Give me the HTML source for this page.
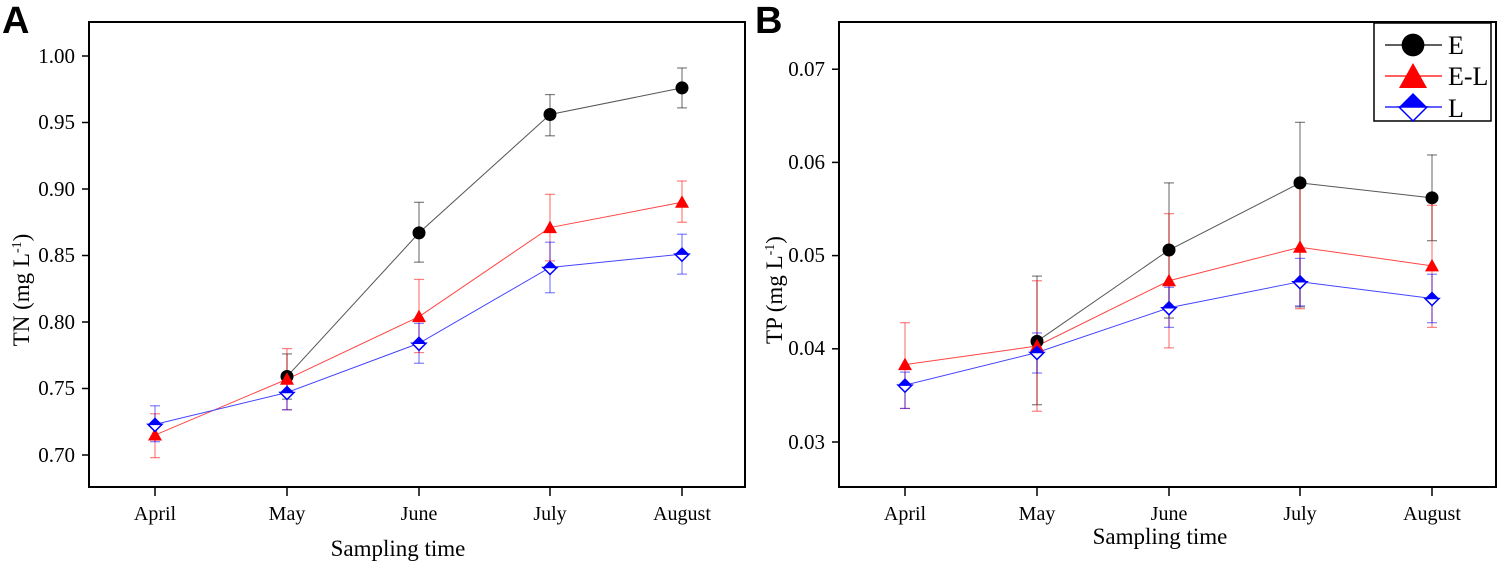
<!DOCTYPE html>
<html><head><meta charset="utf-8"><style>
html,body{margin:0;padding:0;background:#fff;}
svg{display:block;}
text{font-family:"Liberation Serif",serif;}
</style></head><body>
<svg id="s" width="1501" height="563" viewBox="0 0 1501 563" xmlns="http://www.w3.org/2000/svg">
<rect width="1501" height="563" fill="#fff"/>
<text x="2" y="33" style="font-family:'Liberation Sans',sans-serif" font-weight="bold" font-size="38">A</text>
<text x="755" y="33" style="font-family:'Liberation Sans',sans-serif" font-weight="bold" font-size="38">B</text>
<g font-size="21" text-anchor="end">
<text x="75" y="63">1.00</text><text x="75" y="129">0.95</text><text x="75" y="196">0.90</text>
<text x="75" y="262">0.85</text><text x="75" y="329">0.80</text><text x="75" y="395">0.75</text><text x="75" y="462">0.70</text>
<text x="825" y="76">0.07</text><text x="825" y="169">0.06</text><text x="825" y="262">0.05</text>
<text x="825" y="355">0.04</text><text x="825" y="449">0.03</text>
</g>
<g font-size="20" text-anchor="middle">
<text x="155" y="520">April</text><text x="287" y="520">May</text><text x="419" y="520">June</text><text x="550" y="520">July</text><text x="682" y="520">August</text>
<text x="905" y="520">April</text><text x="1037" y="520">May</text><text x="1169" y="520">June</text><text x="1300" y="520">July</text><text x="1432" y="520">August</text>
</g>
<text x="398" y="556" font-size="23" text-anchor="middle">Sampling time</text>
<text x="1160" y="544" font-size="23" text-anchor="middle">Sampling time</text>
<text transform="translate(29,290) rotate(-90)" font-size="23" text-anchor="middle">TN (mg L<tspan dy="-8" font-size="14">-1</tspan><tspan dy="8">)</tspan></text>
<text transform="translate(782,290) rotate(-90)" font-size="23" text-anchor="middle">TP (mg L<tspan dy="-8" font-size="14">-1</tspan><tspan dy="8">)</tspan></text>
<rect x="1374" y="23" width="117" height="98" fill="#fff" stroke="#000" stroke-width="1.5"/>
<text x="1448" y="54" font-size="26">E</text>
<text x="1448" y="85" font-size="26">E-L</text>
<text x="1448" y="117" font-size="26">L</text>
<g id="g"></g>
</svg>
<script>
var g=document.getElementById('g'),h='';
function L(x1,y1,x2,y2,c,w,o){h+='<line x1="'+x1+'" y1="'+y1+'" x2="'+x2+'" y2="'+y2+'" stroke="'+c+'" stroke-width="'+(w||1)+'"'+(o?' stroke-opacity="'+o+'"':'')+'/>';}
function circ(x,y,k){k=k||1;h+='<circle cx="'+x+'" cy="'+y+'" r="'+(6.5*k)+'" fill="#000"/>';}
function tri(x,y,k){k=k||1;h+='<polygon points="'+(x-7*k)+','+(y+5.5*k)+' '+(x+7*k)+','+(y+5.5*k)+' '+x+','+(y-7*k)+'" fill="#f00"/>';}
function dia(x,y,k){k=k||1;var a=7*k;h+='<polygon points="'+(x-a)+','+y+' '+x+','+(y-a)+' '+(x+a)+','+y+'" fill="#00f"/><polygon points="'+(x-a)+','+y+' '+x+','+(y+a)+' '+(x+a)+','+y+'" fill="#fff" stroke="#00f" stroke-width="1.5"/>';}
function panel(X0,X1,xs,ymap,ticks,series){
 h+='<rect x="'+X0+'" y="22" width="'+(X1-X0)+'" height="465" fill="none" stroke="#000" stroke-width="2"/>';
 ticks.forEach(function(t){L(X0-7,ymap(t),X0,ymap(t),'#000',1.5);});
 xs.forEach(function(x){L(x,487,x,496,'#000',1.5);});
 series.forEach(function(s){
  var col=s.c;
  s.d.forEach(function(p,i){if(!p)return;var x=xs[i];L(x,ymap(p[1]),x,ymap(p[2]),col,1.2,0.5);L(x-5,ymap(p[1]),x+5,ymap(p[1]),col,1.2,0.5);L(x-5,ymap(p[2]),x+5,ymap(p[2]),col,1.2,0.5);});
  var pts=[];s.d.forEach(function(p,i){if(p)pts.push(xs[i]+','+ymap(p[0]));});
  h+='<polyline points="'+pts.join(' ')+'" fill="none" stroke="'+s.lc+'" stroke-width="1"/>';
 });
 series.forEach(function(s){s.d.forEach(function(p,i){if(p)s.m(xs[i],ymap(p[0]));});});
}
panel(89,745,[155,287,419,550,682],function(v){return 455-(v-0.70)*1330;},[0.70,0.75,0.80,0.85,0.90,0.95,1.00],[
 {c:'#000',lc:'#555',m:circ,d:[null,[0.759,0.776,0.742],[0.867,0.890,0.845],[0.956,0.971,0.940],[0.976,0.991,0.961]]},
 {c:'#f00',lc:'#f44',m:tri,d:[[0.715,0.731,0.698],[0.757,0.780,0.734],[0.804,0.832,0.777],[0.871,0.896,0.846],[0.890,0.906,0.875]]},
 {c:'#00f',lc:'#44f',m:dia,d:[[0.723,0.737,0.710],[0.747,0.760,0.734],[0.784,0.799,0.769],[0.841,0.860,0.822],[0.851,0.866,0.836]]}
]);
panel(839,1496,[905,1037,1169,1300,1432],function(v){return 442-(v-0.03)*9320;},[0.03,0.04,0.05,0.06,0.07],[
 {c:'#000',lc:'#555',m:circ,d:[null,[0.0408,0.0478,0.034],[0.0506,0.0578,0.0433],[0.0578,0.0643,0.0445],[0.0562,0.0608,0.0516]]},
 {c:'#f00',lc:'#f44',m:tri,d:[[0.0383,0.0428,0.0336],[0.0403,0.0473,0.0333],[0.0473,0.0545,0.0401],[0.0509,0.0575,0.0443],[0.0489,0.0554,0.0423]]},
 {c:'#00f',lc:'#44f',m:dia,d:[[0.0361,0.0375,0.0336],[0.0396,0.0417,0.0374],[0.0444,0.0466,0.0423],[0.0472,0.0497,0.0446],[0.0454,0.048,0.0428]]}
]);
L(1385,45,1442,45,'#000',1.2);circ(1413,45,1.75);
L(1385,76,1442,76,'#f00',1.2);tri(1413,77,2);
L(1385,107,1442,107,'#00f',1.2);dia(1413,107,2);
g.innerHTML=h;
</script>
</body></html>
